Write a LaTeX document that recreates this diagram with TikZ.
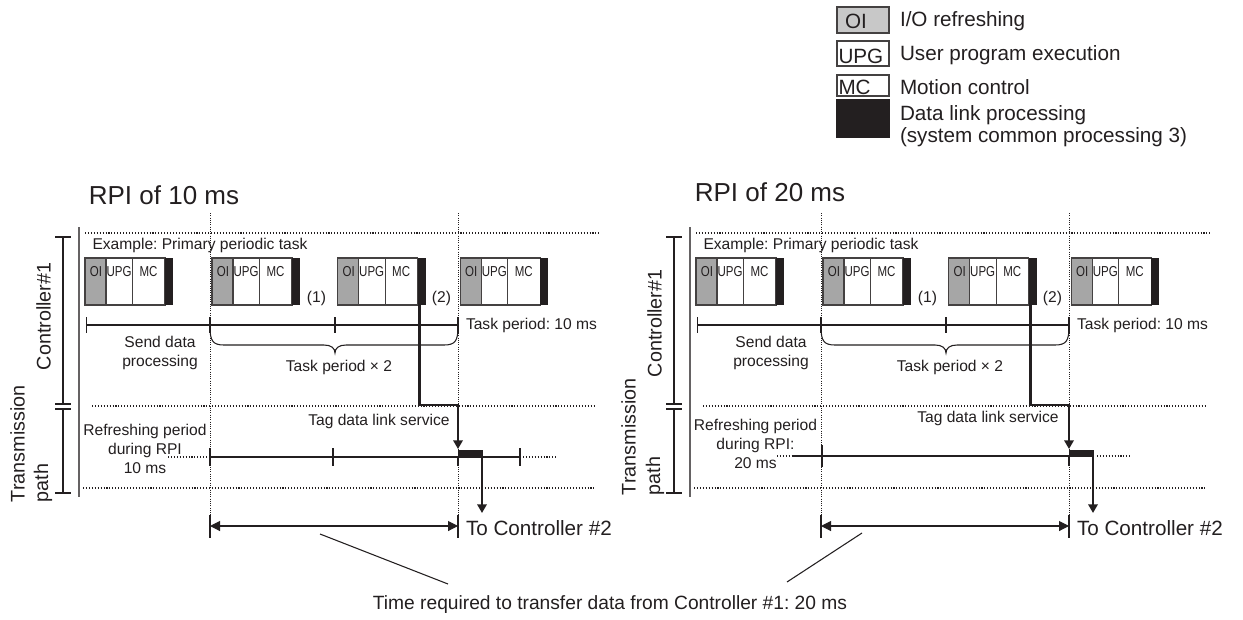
\documentclass[tikz,border=0pt]{standalone}
\usepackage{fontspec}
\setmainfont{Liberation Sans}
\newfontfamily\narrowf[FakeStretch=0.8]{Liberation Sans}
\usetikzlibrary{arrows.meta}
\frenchspacing
\definecolor{ink}{HTML}{231F20}
\definecolor{oigray}{HTML}{A6A6A6}
\definecolor{oilight}{HTML}{C8C8C8}
\tikzset{
 every node/.style={inner sep=0pt, outer sep=0pt, text=ink},
 fine/.style={draw=ink, line width=0.8pt},
 dotline/.style={draw=ink, line width=0.8pt, dash pattern=on 0.8pt off 1.4pt},
 vdot/.style={draw=ink, line width=0.6pt, dash pattern=on 0.6pt off 1.1pt},
 cellborder/.style={draw=ink!85, line width=0.8pt},
 thickpath/.style={draw=ink, line width=2pt},
 tip/.style={-{Triangle[length=6.5pt,width=7pt]}},
 dimarrow/.style={{Triangle[length=7.5pt,width=7.5pt]}-{Triangle[length=7.5pt,width=7.5pt]}, draw=ink, line width=0.8pt},
 small/.style={font=\fontsize{11.7}{14}\selectfont},
 medium/.style={font=\fontsize{14.8}{17}\selectfont},
 legendf/.style={font=\fontsize{15.5}{17}\selectfont},
 titlef/.style={font=\fontsize{19.5}{22}\selectfont},
 blklabel/.style={font=\narrowf\fontsize{10.8}{12}\selectfont},
}
\newcommand\taskblock[2]{%
 \draw[cellborder,fill=oigray] (#2,258) rectangle ++(21,47);
 \draw[cellborder] (#2+21,258) rectangle ++(26.5,47);
 \draw[cellborder] (#2+47.5,258) rectangle ++(32.5,47);
 \fill[ink] (#2+80,258) rectangle ++(8,47);
 \node[blklabel] (#1-oi) at (#2+11,272) {OI};
 \node[blklabel] (#1-upg) at (#2+34,272) {UPG};
 \node[blklabel] (#1-mc) at (#2+63.5,272) {MC};
}
\newcommand\halfdiag[2]{%
\begin{scope}[shift={(#2,0)}]
 \coordinate (#1-g1t) at (210,213); \coordinate (#1-g1b) at (210,515);
 \coordinate (#1-g2t) at (458,213); \coordinate (#1-g2b) at (458,515);
 \draw[vdot] (#1-g1t) -- (#1-g1b);
 \draw[vdot] (#1-g2t) -- (#1-g2b);
 \draw[dotline] (85,233) -- (600,233);
 \draw[dotline] (92,406) -- (595,406);
 \draw[dotline] (83,488) -- (595,488);
 \node[small, anchor=west] (#1-ex) at (92.5,245) {Example: Primary periodic task};
 \taskblock{#1-b1}{85}
 \taskblock{#1-b2}{212}
 \taskblock{#1-b3}{337.7}
 \taskblock{#1-b4}{460.3}
 \node[small] (#1-n1) at (316.5,298) {(1)};
 \node[small] (#1-n2) at (441.5,298) {(2)};
 % task timeline
 \coordinate (#1-t0) at (86.5,325);
 \coordinate (#1-t3) at (458,325);
 \draw[fine] (#1-t0) -- (#1-t3);
 \draw[fine] (86.5,317) -- (86.5,333);
 \draw[fine] (210,317) -- (210,333);
 \draw[fine] (335,317) -- (335,333);
 \draw[fine] (458,317) -- (458,333);
 \node[small, anchor=west] (#1-tp) at (466,325) {Task period: 10 ms};
 \draw[fine] (210,327) .. controls (210,341) and (213,345) .. (224,345) -- (324,345)
   .. controls (331,345) and (335,348) .. (335,353)
   .. controls (335,348) and (339,345) .. (346,345) -- (444,345)
   .. controls (455,345) and (458,341) .. (458,327);
 \node[small] (#1-tp2) at (339,367) {Task period × 2};
 \node[small, align=center] (#1-sd) at (160,353) {Send data\\processing};
 % side brackets
 \draw[fine] (55,237) -- (71,237);
 \draw[fine] (63,237) -- (63,404);
 \draw[fine] (55,404) -- (71,404);
 \draw[fine] (55,409) -- (71,409);
 \draw[fine] (63,409) -- (63,493);
 \draw[fine] (55,493) -- (71,493);
 \draw[line width=0.9pt, draw=ink!70] (79,227) -- (79,497);
 % tag data link service path
 \coordinate (#1-s0) at (419.5,305);
 \coordinate (#1-s1) at (419.5,405);
 \coordinate (#1-s2) at (458,405);
 \coordinate (#1-s3) at (458,449);
 \draw[thickpath, tip, line join=miter] (#1-s0) -- (#1-s1) -- (#1-s2) -- (#1-s3);
 \fill[ink] (458,450) rectangle (483,457);
 \coordinate (#1-o0) at (482,457);
 \coordinate (#1-o1) at (482,513);
 \draw[thickpath, tip] (#1-o0) -- (#1-o1);
 % dimension arrow
 \draw[fine] (210,515) -- (210,538);
 \draw[fine] (458,515) -- (458,538);
 \coordinate (#1-d0) at (210,526);
 \coordinate (#1-d1) at (458,526);
 \draw[dimarrow] (#1-d0) -- (#1-d1);
 \node[legendf, anchor=west] (#1-to) at (466,528) {To Controller \#2};
\end{scope}}

\begin{document}
\begin{tikzpicture}[x=0.75pt,y=-0.75pt]
\useasboundingbox (0,0) rectangle (1243,619);
\fill[white] (0,0) rectangle (1243,619);

% legend
\draw[cellborder, fill=oilight] (837,7) rectangle (889,33);
\node[legendf, anchor=base west] (lg-oi) at (845,28) {OI};
\draw[cellborder] (837,41) rectangle (889,66);
\node[legendf, anchor=base west] (lg-upg) at (838.5,63) {UPG};
\draw[cellborder] (837,75) rectangle (889,96);
\node[legendf, anchor=base west] (lg-mc) at (838.5,94) {MC};
\fill[ink] (836,99) rectangle (890,138);
\node[legendf, anchor=base west] (lg-t1) at (900,26) {I/O refreshing};
\node[legendf, anchor=base west] (lg-t2) at (900,60) {User program execution};
\node[legendf, anchor=base west] (lg-t3) at (900,94) {Motion control};
\node[legendf, anchor=base west] (lg-t4) at (900,120) {Data link processing};
\node[legendf, anchor=base west] (lg-t5) at (900,142) {(system common processing 3)};

\halfdiag{L}{0}
\halfdiag{R}{611}

\node[titlef] (L-title) at (164,195) {RPI of 10 ms};
\node[titlef] (R-title) at (770,192) {RPI of 20 ms};
\node[medium, rotate=90, anchor=west] (L-ctl) at (43.5,370) {Controller\#1};
\node[medium, rotate=90, anchor=west] (R-ctl) at (654.5,377) {Controller\#1};
\node[medium, rotate=90, anchor=west] (L-tr1) at (17.5,502) {Transmission};
\node[medium, rotate=90, anchor=west] (L-tr2) at (43,502) {path};
\node[medium, rotate=90, anchor=west] (R-tr1) at (628.5,495) {Transmission};
\node[medium, rotate=90, anchor=west] (R-tr2) at (655,495) {path};

\node[small] (L-tag) at (379,421) {Tag data link service};
\node[small] (R-tag) at (988,418) {Tag data link service};

% left RPI timeline
\draw[dotline] (168,457) -- (207,457);
\draw[fine] (210,457) -- (520,457);
\draw[fine] (210,448) -- (210,466);
\draw[fine] (333,448) -- (333,466);
\draw[fine] (458,457) -- (458,466);
\draw[fine] (520,448) -- (520,466);
\draw[dotline] (523,457) -- (557,457);
% right RPI timeline
\draw[dotline] (777,456) -- (793,456);
\draw[fine] (793,456) -- (1069,456);
\draw[fine] (822,445) -- (822,467);
\draw[fine] (1069,456) -- (1069,466);
\draw[dotline] (1097,456) -- (1132,456);

\node[small, align=center, font=\fontsize{11.7}{14.25}\selectfont] (L-rf) at (145,449) {Refreshing period\\during RPI\\10 ms};
\node[small, align=center, font=\fontsize{11.7}{14.25}\selectfont] (R-rf) at (755.5,444) {Refreshing period\\during RPI:\\20 ms};

% bottom caption
\node[font=\fontsize{14.4}{16}\selectfont] (time) at (610,605) {Time required to transfer data from Controller \#1: 20 ms};
\coordinate (lead-l0) at (320,534);
\coordinate (lead-l1) at (448,584);
\coordinate (lead-r0) at (862,533);
\coordinate (lead-r1) at (787,582);
\draw[fine] (lead-l0) -- (lead-l1);
\draw[fine] (lead-r0) -- (lead-r1);
\end{tikzpicture}
\end{document}
